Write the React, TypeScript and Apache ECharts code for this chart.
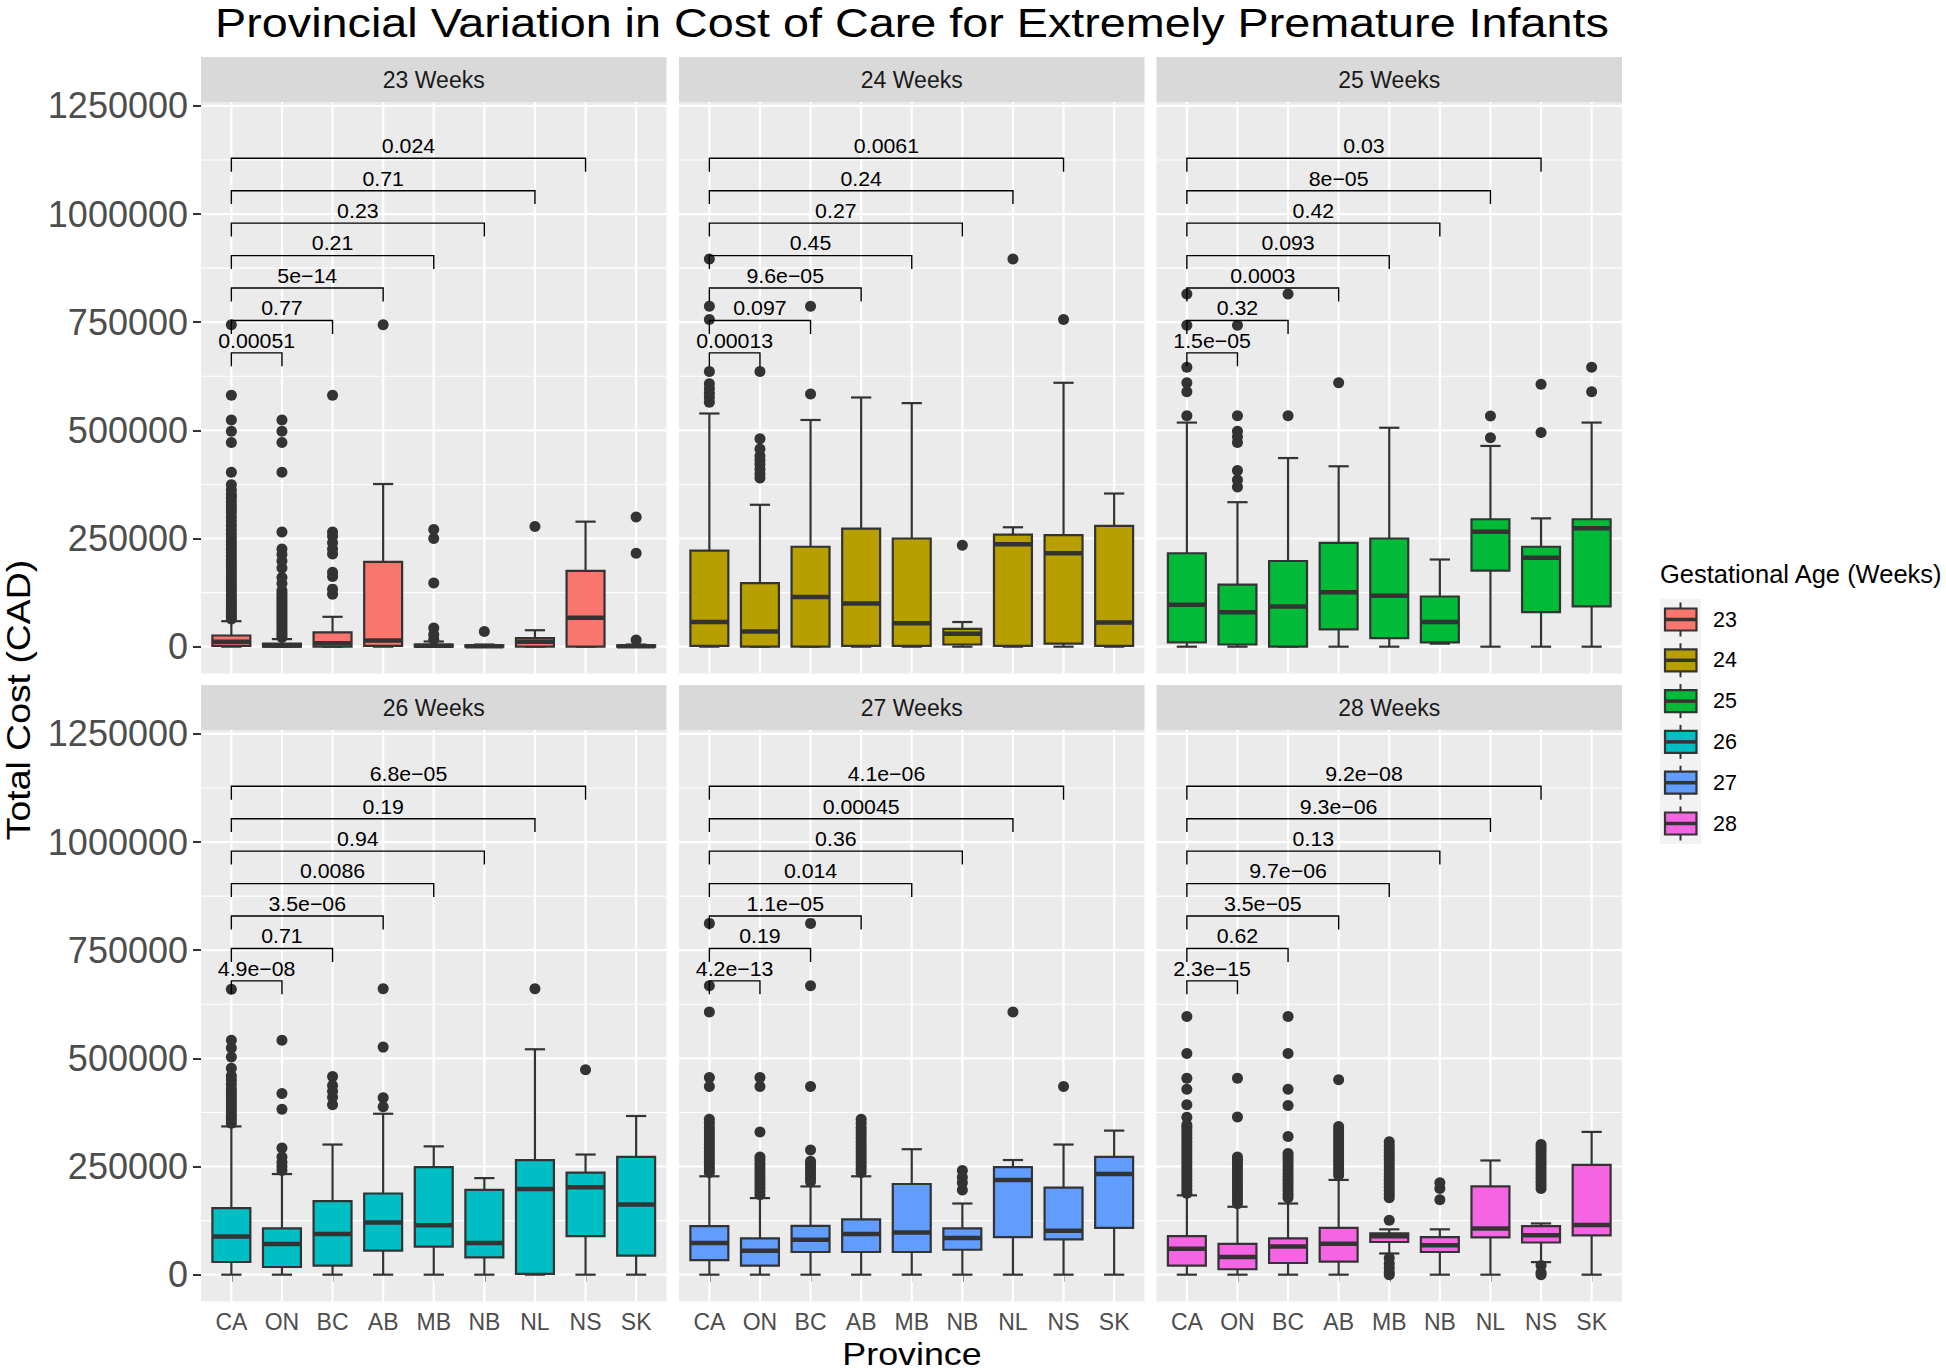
import React, { useEffect, useRef } from "react";
import * as echarts from "echarts";

const FONT = '"Liberation Sans", Arial, Helvetica, sans-serif';

// ---------------- data ----------------
const provinces = ["CA", "ON", "BC", "AB", "MB", "NB", "NL", "NS", "SK"];
const ages = [23, 24, 25, 26, 27, 28];
const ageColors = ["#F8766D", "#B79F00", "#00BA38", "#00BFC4", "#619CFF", "#F564E3"];
const yTicks = [0, 250000, 500000, 750000, 1000000, 1250000];
const yMinorTicks = [125000, 375000, 625000, 875000, 1125000];
const bracketLevels = [679000, 754000, 829000, 904000, 979000, 1054000, 1129000];

// box stats per province: [min, q1, median, q3, max]
const box23 = [
  [0, 2000, 11400, 25800, 58900],
  [0, 0, 3000, 7000, 17500],
  [0, 0, 8000, 33000, 69000],
  [0, 2000, 14000, 196000, 376000],
  [0, 0, 2000, 5000, 12000],
  [0, 0, 1000, 3000, 5000],
  [0, 0, 11400, 19600, 38000],
  [0, 0, 67000, 175000, 289000],
  [0, 0, 1000, 3000, 5000],
];
const box24 = [
  [0, 2000, 57000, 222000, 539000],
  [0, 0, 35000, 147000, 328000],
  [0, 0, 115000, 231000, 524000],
  [0, 2000, 100000, 273000, 576000],
  [0, 2000, 54000, 250000, 563000],
  [0, 5000, 30000, 41000, 57000],
  [0, 2000, 236600, 259000, 276000],
  [0, 7000, 216000, 258000, 610000],
  [0, 2000, 56000, 279000, 354000],
];
const box25 = [
  [0, 10000, 97000, 216000, 518000],
  [0, 5000, 79600, 143600, 334000],
  [0, 0, 93000, 198000, 436000],
  [0, 40000, 126000, 240000, 417000],
  [0, 19600, 118000, 250000, 506000],
  [7000, 10000, 57000, 116000, 201500],
  [0, 176000, 265600, 294500, 464000],
  [0, 80000, 205600, 231000, 296600],
  [0, 93000, 274000, 294500, 518000],
];
const box26 = [
  [0, 29300, 88000, 154000, 342700],
  [0, 17800, 71000, 107000, 232600],
  [0, 21000, 94000, 169800, 300800],
  [0, 55500, 120500, 187600, 372000],
  [0, 65000, 114000, 248400, 296600],
  [0, 39800, 73400, 196000, 223200],
  [0, 2000, 198000, 265000, 521000],
  [0, 89000, 202000, 235800, 277700],
  [0, 44000, 162400, 272500, 366800],
];
const box27 = [
  [0, 33500, 73400, 112000, 227400],
  [0, 21000, 55500, 83800, 177000],
  [0, 52400, 80700, 113000, 204000],
  [0, 52400, 94300, 127800, 227400],
  [0, 52400, 97500, 209600, 290000],
  [0, 57600, 85000, 107000, 164500],
  [0, 87000, 219000, 248400, 265000],
  [0, 81700, 101600, 201000, 300800],
  [0, 108000, 232600, 272500, 333000],
];
const box28 = [
  [0, 21000, 59700, 89000, 183400],
  [0, 12600, 41000, 71000, 157000],
  [0, 27000, 65000, 83800, 164500],
  [0, 30000, 71300, 108000, 219000],
  [49000, 75500, 89000, 95400, 104800],
  [0, 52400, 68000, 87000, 104800],
  [0, 86000, 107000, 204000, 264000],
  [29000, 74400, 91000, 112000, 118400],
  [0, 91000, 115000, 253600, 330000],
];

// outliers per province
const out23 = [
  [64000, 70000, 76000, 82000, 88000, 95000, 101000, 108000, 115000, 122000, 130000, 137000, 145000, 152000, 160000, 168000, 176000, 185000, 193000, 201000, 210000, 218000, 226000, 235000, 243000, 252000, 261000, 270000, 280000, 290000, 300000, 310000, 318000, 326000, 335000, 345000, 352000, 362000, 374000, 403000, 472000, 498000, 524000, 581000, 744000],
  [21000, 27000, 33000, 39000, 45000, 51000, 57000, 63000, 69000, 75000, 81000, 87000, 93000, 99000, 105000, 111000, 117000, 123000, 130000, 146000, 160000, 182000, 198000, 213000, 226000, 265000, 403000, 472000, 498000, 524000],
  [121000, 133000, 162000, 172000, 214000, 226000, 240000, 255000, 265000, 581000],
  [744000],
  [17000, 28000, 43000, 147000, 250000, 271000],
  [35000],
  [278000],
  [],
  [15500, 216000, 300000],
];
const out24 = [
  [565000, 576000, 586000, 597000, 608000, 636000, 756000, 787000, 896000],
  [390000, 400000, 410000, 421000, 431000, 441000, 457000, 480500, 636000],
  [584000, 787000],
  [],
  [],
  [234600],
  [896000],
  [756000],
  [],
];
const out25 = [
  [534000, 589000, 610000, 646000, 743000, 815000],
  [369000, 385000, 407000, 472000, 485000, 498000, 534000, 743000],
  [534000, 815000],
  [610000],
  [],
  [],
  [483000, 533000],
  [495000, 606600],
  [589000, 646000],
];
const out26 = [
  [350000, 358000, 366000, 374000, 382000, 390000, 398000, 406000, 414000, 422000, 430000, 440000, 450000, 460000, 477000, 503000, 524000, 542000, 660000],
  [241000, 250000, 260000, 272000, 293000, 382500, 419000, 542000],
  [393000, 410000, 424000, 437000, 458000],
  [388000, 409000, 526000, 661000],
  [],
  [],
  [661000],
  [473700],
  [],
];
const out27 = [
  [236000, 244000, 252000, 260000, 268000, 276000, 284000, 292000, 300000, 308000, 316000, 324000, 332000, 340000, 350000, 359000, 435000, 456000, 607000, 667600, 812000],
  [185000, 193000, 201000, 209000, 217000, 225000, 233000, 241000, 249000, 257000, 265000, 272000, 330000, 435000, 456000],
  [215000, 223000, 231000, 239000, 247000, 255000, 262000, 288000, 435000, 667600, 812000],
  [236000, 244000, 252000, 260000, 268000, 276000, 284000, 292000, 300000, 308000, 316000, 324000, 332000, 340000, 350000, 359000],
  [],
  [196000, 212700, 225000, 241000],
  [607000],
  [435000],
  [],
];
const out28 = [
  [188000, 196000, 204000, 212000, 220000, 228000, 236000, 244000, 252000, 260000, 268000, 276000, 284000, 292000, 300000, 308000, 316000, 324000, 332000, 340000, 346000, 363700, 393000, 428600, 453800, 511400, 597000],
  [164000, 172000, 180000, 188000, 196000, 204000, 212000, 220000, 228000, 236000, 244000, 252000, 260000, 266000, 272000, 364700, 453800],
  [178000, 186000, 194000, 202000, 210000, 218000, 226000, 234000, 242000, 250000, 258000, 266000, 274000, 280000, 319600, 391000, 428600, 511400, 597000],
  [230000, 238000, 246000, 254000, 262000, 270000, 278000, 286000, 294000, 302000, 310000, 318000, 326000, 334000, 342700, 450600],
  [0, 5000, 15700, 26000, 38800, 125800, 178000, 186000, 194000, 202000, 210000, 218000, 226000, 234000, 242000, 250000, 258000, 266000, 274000, 282000, 290000, 298000, 307000],
  [173000, 199000, 212700],
  [],
  [0, 5000, 21000, 199000, 207000, 215000, 223000, 231000, 239000, 247000, 255000, 263000, 271000, 279000, 287000, 294000, 300800],
  [],
];

// p-values: CA vs ON, BC, AB, MB, NB, NL, NS
const p23 = ["0.00051", "0.77", "5e\u221214", "0.21", "0.23", "0.71", "0.024"];
const p24 = ["0.00013", "0.097", "9.6e\u221205", "0.45", "0.27", "0.24", "0.0061"];
const p25 = ["1.5e\u221205", "0.32", "0.0003", "0.093", "0.42", "8e\u221205", "0.03"];
const p26 = ["4.9e\u221208", "0.71", "3.5e\u221206", "0.0086", "0.94", "0.19", "6.8e\u221205"];
const p27 = ["4.2e\u221213", "0.19", "1.1e\u221205", "0.014", "0.36", "0.00045", "4.1e\u221206"];
const p28 = ["2.3e\u221215", "0.62", "3.5e\u221205", "9.7e\u221206", "0.13", "9.3e\u221206", "9.2e\u221208"];

const boxes = [box23, box24, box25, box26, box27, box28];
const outliers = [out23, out24, out25, out26, out27, out28];
const pvals = [p23, p24, p25, p26, p27, p28];

// ---------------- layout ----------------
const X_MIN = 0.4;
const X_MAX = 9.6;
const Y_MIN = -62000;
const Y_MAX = 1259000;
const PANEL_W = 465.5;
const PANEL_H = 571.5;
const STRIP_H = 45;
const COL_LEFT = [201, 679, 1156.5];
const ROW_TOP = [102, 730];
const xTickValues = provinces.map((_, k) => k + 1);

function buildOption() {
  const grids: any[] = [];
  const xAxes: any[] = [];
  const yAxes: any[] = [];
  const series: any[] = [];
  const graphics: any[] = [];

  ages.forEach((age, i) => {
    const col = i % 3;
    const row = Math.floor(i / 3);
    const left = COL_LEFT[col];
    const top = ROW_TOP[row];
    const color = ageColors[i];

    grids.push({
      left,
      top,
      width: PANEL_W,
      height: PANEL_H,
      show: true,
      backgroundColor: "#EBEBEB",
      borderWidth: 0,
      containLabel: false,
      outerBoundsMode: "none",
    });

    xAxes.push({
      type: "value",
      gridIndex: i,
      min: X_MIN,
      max: X_MAX,
      splitLine: { show: false },
      axisLine: { show: false },
      axisTick: {
        show: row === 1,
        length: 7,
        lineStyle: { color: "#333333", width: 2 },
        customValues: xTickValues,
      },
      axisLabel: {
        show: row === 1,
        customValues: xTickValues,
        formatter: (v: number) => provinces[Math.round(v) - 1] ?? "",
        margin: 9,
        fontSize: 23,
        fontFamily: FONT,
        color: "#4D4D4D",
      },
    });

    yAxes.push({
      type: "value",
      gridIndex: i,
      min: Y_MIN,
      max: Y_MAX,
      splitLine: { show: false },
      axisLine: { show: false },
      axisTick: {
        show: col === 0,
        length: 8,
        lineStyle: { color: "#333333", width: 2 },
        customValues: yTicks,
      },
      axisLabel: {
        show: col === 0,
        customValues: yTicks,
        formatter: (v: number) => String(v),
        margin: 13,
        fontSize: 36,
        fontFamily: FONT,
        color: "#4D4D4D",
      },
    });

    // panel grid lines
    series.push({
      type: "custom",
      xAxisIndex: i,
      yAxisIndex: i,
      silent: true,
      z: 1,
      data: [[1, 0]],
      renderItem: (_params: any, api: any) => {
        const xl = api.coord([X_MIN, 0])[0];
        const xr = api.coord([X_MAX, 0])[0];
        const yt = api.coord([1, Y_MAX])[1];
        const yb = api.coord([1, Y_MIN])[1];
        const children: any[] = [];
        yMinorTicks.forEach((v) => {
          const y = api.coord([1, v])[1];
          children.push({ type: "line", shape: { x1: xl, y1: y, x2: xr, y2: y }, style: { stroke: "#FFFFFF", lineWidth: 1.1 } });
        });
        yTicks.forEach((v) => {
          const y = api.coord([1, v])[1];
          children.push({ type: "line", shape: { x1: xl, y1: y, x2: xr, y2: y }, style: { stroke: "#FFFFFF", lineWidth: 2.2 } });
        });
        xTickValues.forEach((v) => {
          const x = api.coord([v, 0])[0];
          children.push({ type: "line", shape: { x1: x, y1: yt, x2: x, y2: yb }, style: { stroke: "#FFFFFF", lineWidth: 2.2 } });
        });
        return { type: "group", children };
      },
    });

    // boxes
    series.push({
      type: "custom",
      xAxisIndex: i,
      yAxisIndex: i,
      silent: true,
      z: 3,
      encode: { x: 0, y: [1, 2, 3, 4, 5] },
      data: boxes[i].map((b, k) => [k + 1, ...b]),
      renderItem: (_params: any, api: any) => {
        const x = api.value(0) as number;
        const mn = api.value(1) as number;
        const q1 = api.value(2) as number;
        const md = api.value(3) as number;
        const q3 = api.value(4) as number;
        const mx = api.value(5) as number;
        const cx = api.coord([x, 0])[0];
        const bl = api.coord([x - 0.375, 0])[0];
        const br = api.coord([x + 0.375, 0])[0];
        const cl = api.coord([x - 0.2, 0])[0];
        const cr = api.coord([x + 0.2, 0])[0];
        const y = (v: number) => api.coord([x, v])[1];
        const stroke = "#333333";
        return {
          type: "group",
          children: [
            { type: "line", shape: { x1: cx, y1: y(mx), x2: cx, y2: y(q3) }, style: { stroke, lineWidth: 2.2 } },
            { type: "line", shape: { x1: cx, y1: y(q1), x2: cx, y2: y(mn) }, style: { stroke, lineWidth: 2.2 } },
            { type: "line", shape: { x1: cl, y1: y(mx), x2: cr, y2: y(mx) }, style: { stroke, lineWidth: 2.2 } },
            { type: "line", shape: { x1: cl, y1: y(mn), x2: cr, y2: y(mn) }, style: { stroke, lineWidth: 2.2 } },
            {
              type: "rect",
              shape: { x: bl, y: y(q3), width: br - bl, height: y(q1) - y(q3) },
              style: { fill: color, stroke, lineWidth: 2.2 },
            },
            { type: "line", shape: { x1: bl, y1: y(md), x2: br, y2: y(md) }, style: { stroke, lineWidth: 4.5 } },
          ],
        };
      },
    });

    // outliers
    const pts: number[][] = [];
    outliers[i].forEach((vals, k) => vals.forEach((v) => pts.push([k + 1, v])));
    series.push({
      type: "scatter",
      xAxisIndex: i,
      yAxisIndex: i,
      silent: true,
      z: 4,
      symbol: "circle",
      symbolSize: 11,
      itemStyle: { color: "#333333", opacity: 1 },
      data: pts,
    });

    // significance brackets
    const pv = pvals[i];
    series.push({
      type: "custom",
      xAxisIndex: i,
      yAxisIndex: i,
      silent: true,
      z: 5,
      encode: { x: [0, 1], y: 2 },
      data: pv.map((_, j) => [1, j + 2, bracketLevels[j]]),
      renderItem: (params: any, api: any) => {
        const p1 = api.coord([api.value(0), api.value(2)]);
        const p2 = api.coord([api.value(1), api.value(2)]);
        const tip = p1[1] + 13.4;
        return {
          type: "group",
          children: [
            {
              type: "polyline",
              shape: { points: [[p1[0], tip], [p1[0], p1[1]], [p2[0], p2[1]], [p2[0], tip]] },
              style: { stroke: "#000000", fill: null, lineWidth: 1.4 },
            },
            {
              type: "text",
              x: (p1[0] + p2[0]) / 2,
              y: p1[1] - 12.5,
              scaleX: 1.04,
              style: {
                text: pv[params.dataIndex],
                fill: "#000000",
                fontSize: 20.5,
                fontFamily: FONT,
                align: "center",
                verticalAlign: "middle",
              },
            },
          ],
        };
      },
    });

    // strip
    graphics.push({
      type: "rect",
      shape: { x: left, y: top - STRIP_H, width: PANEL_W, height: STRIP_H },
      style: { fill: "#D9D9D9" },
      silent: true,
    });
    graphics.push({
      type: "text",
      x: left + PANEL_W / 2,
      y: top - STRIP_H / 2,
      style: {
        text: `${age} Weeks`,
        fill: "#1A1A1A",
        fontSize: 23,
        fontFamily: FONT,
        align: "center",
        verticalAlign: "middle",
      },
      silent: true,
    });
  });

  // titles
  graphics.push({
    type: "text",
    x: 912,
    y: 23,
    scaleX: 1.14,
    style: {
      text: "Provincial Variation in Cost of Care for Extremely Premature Infants",
      fill: "#000000",
      fontSize: 41,
      fontFamily: FONT,
      align: "center",
      verticalAlign: "middle",
    },
  });
  graphics.push({
    type: "text",
    x: 19,
    y: 700,
    rotation: Math.PI / 2,
    scaleX: 1.1,
    style: {
      text: "Total Cost (CAD)",
      fill: "#000000",
      fontSize: 34,
      fontFamily: FONT,
      align: "center",
      verticalAlign: "middle",
    },
  });
  graphics.push({
    type: "text",
    x: 912,
    y: 1354,
    scaleX: 1.12,
    style: {
      text: "Province",
      fill: "#000000",
      fontSize: 32,
      fontFamily: FONT,
      align: "center",
      verticalAlign: "middle",
    },
  });

  // legend
  graphics.push({
    type: "text",
    x: 1660,
    y: 574,
    style: {
      text: "Gestational Age (Weeks)",
      fill: "#000000",
      fontSize: 25.5,
      fontFamily: FONT,
      align: "left",
      verticalAlign: "middle",
    },
  });
  ages.forEach((age, k) => {
    const yc = 619.5 + 40.8 * k;
    graphics.push({
      type: "rect",
      shape: { x: 1660, y: yc - 20.4, width: 41, height: 40.8 },
      style: { fill: "#F2F2F2" },
    });
    graphics.push({
      type: "line",
      shape: { x1: 1680.5, y1: yc - 17, x2: 1680.5, y2: yc + 17 },
      style: { stroke: "#333333", lineWidth: 2 },
    });
    graphics.push({
      type: "rect",
      shape: { x: 1665, y: yc - 11, width: 31.5, height: 22 },
      style: { fill: ageColors[k], stroke: "#333333", lineWidth: 2.2 },
    });
    graphics.push({
      type: "line",
      shape: { x1: 1665, y1: yc, x2: 1696.5, y2: yc },
      style: { stroke: "#333333", lineWidth: 3.5 },
    });
    graphics.push({
      type: "text",
      x: 1713,
      y: yc,
      style: {
        text: String(age),
        fill: "#000000",
        fontSize: 21.5,
        fontFamily: FONT,
        align: "left",
        verticalAlign: "middle",
      },
    });
  });

  return {
    animation: false,
    backgroundColor: "#FFFFFF",
    grid: grids,
    xAxis: xAxes,
    yAxis: yAxes,
    series,
    graphic: graphics,
  };
}

export default function App() {
  const ref = useRef<HTMLDivElement>(null);
  useEffect(() => {
    document.body.style.margin = "0";
    const chart = echarts.init(ref.current as HTMLDivElement, null, { renderer: "svg" });
    chart.setOption(buildOption() as any);
    return () => {
      chart.dispose();
    };
  }, []);
  return <div ref={ref} style={{ width: 1946, height: 1372 }} />;
}
